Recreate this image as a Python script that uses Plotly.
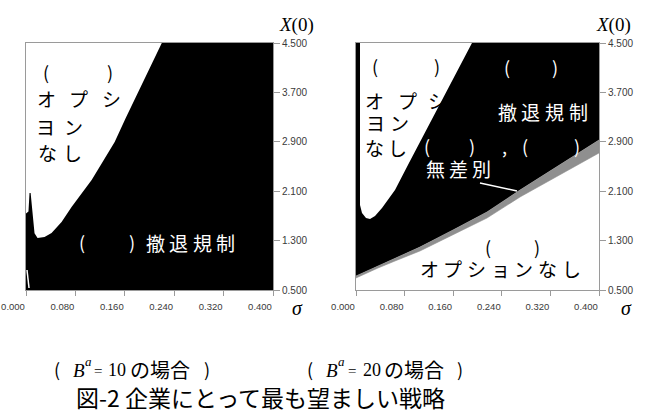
import plotly.graph_objects as go

# ---------------- data ----------------
# left panel (B^a = 10): upper boundary of the black "撤退規制" region
left_sigma = [0.000, 0.004, 0.0057, 0.0075, 0.0090, 0.011, 0.0138, 0.0187, 0.030, 0.0414,
              0.0576, 0.0738, 0.090, 0.1063, 0.124, 0.1436, 0.1615, 0.181, 0.2004, 0.2199]
left_x0 = [1.74, 1.77, 2.07, 2.07, 1.90, 1.63, 1.42, 1.342, 1.358, 1.423,
           1.601, 1.844, 2.071, 2.281, 2.573, 2.897, 3.285, 3.690, 4.095, 4.500]
# small white sliver near the origin of the left panel
left_sliver_sigma = [0.0016, 0.0049]
left_sliver_x0 = [0.824, 0.532]

# right panel (B^a = 20): white "オプションなし" region at the upper left
right_upper_sigma = [0.00658, 0.00658, 0.00988, 0.01646, 0.02305, 0.03128, 0.0428,
                     0.0642, 0.0872, 0.1053, 0.1481, 0.1909]
right_upper_x0 = [4.500, 1.877, 1.747, 1.666, 1.650, 1.698, 1.828,
                  2.119, 2.557, 2.897, 3.690, 4.500]
# right panel: lower edge of black region and lower edge of grey (無差別) band
right_lower_sigma = [0.000, 0.0362, 0.0642, 0.1053, 0.1597, 0.2156, 0.2700, 0.3358, 0.400]
right_black_lower_x0 = [0.727, 0.889, 1.018, 1.196, 1.472, 1.763, 2.119, 2.524, 2.929]
right_gray_lower_x0 = [0.695, 0.856, 0.970, 1.132, 1.391, 1.666, 2.006, 2.362, 2.719]

x_ticks = [0.000, 0.080, 0.160, 0.240, 0.320, 0.400]
y_ticks = [0.500, 1.300, 2.100, 2.900, 3.700, 4.500]
x_range = [0.0, 0.4]
y_range = [0.5, 4.5]

# ---------------- figure ----------------
W, H = 645, 418
CJK = "Noto Sans CJK JP"
SERIF = "Liberation Serif"
SANS = "Liberation Sans"
BLACK = "#000000"
GRAY = "#8f8f8f"
AX = "#9a9a9a"
TICKC = "#3a3a3a"

fig = go.Figure()

# left panel black region
lx = [x_range[0]] + left_sigma + [x_range[1], x_range[1], x_range[0]]
ly = [y_range[0]] + left_x0 + [y_range[1], y_range[0], y_range[0]]
fig.add_trace(go.Scatter(x=lx, y=ly, xaxis="x", yaxis="y", mode="lines", fill="toself",
                         fillcolor=BLACK, line=dict(width=0, color=BLACK), hoverinfo="skip"))
fig.add_trace(go.Scatter(x=left_sliver_sigma, y=left_sliver_x0, xaxis="x", yaxis="y", mode="lines",
                         line=dict(width=1.5, color="white"), hoverinfo="skip"))

# right panel black region
rbx = right_lower_sigma + [x_range[1], x_range[0]]
rby = right_black_lower_x0 + [y_range[1], y_range[1]]
fig.add_trace(go.Scatter(x=rbx, y=rby, xaxis="x2", yaxis="y2", mode="lines", fill="toself",
                         fillcolor=BLACK, line=dict(width=0, color=BLACK), hoverinfo="skip"))
# grey indifference band
rgx = right_lower_sigma + right_lower_sigma[::-1]
rgy = right_black_lower_x0 + right_gray_lower_x0[::-1]
fig.add_trace(go.Scatter(x=rgx, y=rgy, xaxis="x2", yaxis="y2", mode="lines", fill="toself",
                         fillcolor=GRAY, line=dict(width=0.6, color=GRAY), hoverinfo="skip"))
# white upper-left region
fig.add_trace(go.Scatter(x=right_upper_sigma, y=right_upper_x0, xaxis="x2", yaxis="y2", mode="lines",
                         fill="toself", fillcolor="white", line=dict(width=0, color="white"),
                         hoverinfo="skip"))

def xdom(a, b):
    return [a / W, b / W]

ydom = [(H - 290) / H, (H - 43) / H]

axis_common = dict(showgrid=False, zeroline=False, showline=True, linecolor=AX, linewidth=1,
                   mirror=True, ticks="outside", tickcolor=AX, tickwidth=1, layer="below traces",
                   automargin=False, fixedrange=True)
xaxis_common = dict(range=x_range, tickvals=x_ticks, tickformat=".3f", ticklen=5,
                    tickfont=dict(family=SANS, size=9.5, color=TICKC),
                    ticklabelshift=-13, ticklabelstandoff=3, **axis_common)
yaxis_common = dict(domain=ydom, range=y_range, tickvals=y_ticks, tickformat=".3f", side="right",
                    ticklen=6, tickfont=dict(family=SANS, size=10, color=TICKC), **axis_common)

fig.update_layout(
    width=W, height=H, margin=dict(l=0, r=0, t=0, b=0, autoexpand=False),
    paper_bgcolor="white", plot_bgcolor="white", showlegend=False,
    xaxis=dict(domain=xdom(26, 273), anchor="y", **xaxis_common),
    yaxis=dict(anchor="x", **yaxis_common),
    xaxis2=dict(domain=xdom(356, 599), anchor="y2", **xaxis_common),
    yaxis2=dict(anchor="x2", **yaxis_common),
)

# pointer line from 無差別 to the grey band
fig.add_shape(type="line", xref="x2", yref="y2", x0=0.2041, y0=2.233, x1=0.265, y1=2.104,
              line=dict(color="white", width=1.5))

anns = []

def txt(t, cx, cy, size=19, color=BLACK, family=CJK, xanchor="center"):
    anns.append(dict(text=t, x=cx / W, y=1 - cy / H, xref="paper", yref="paper",
                     xanchor=xanchor, yanchor="middle", showarrow=False, borderpad=0,
                     font=dict(family=family, size=size, color=color)))

def chars(s, cx0, cy, pitch, size=19, color=BLACK):
    for i, c in enumerate(s):
        txt(c, cx0 + i * pitch, cy, size, color)

# left panel texts
txt("(", 46, 72, 18); txt(")", 110, 72, 18)
txt("オ", 46, 99); txt("プ", 78, 99); txt("シ", 111, 99)
txt("ヨ", 45, 127); txt("ン", 73, 127)
txt("な", 47, 152); txt("し", 72, 152)
txt("(", 82, 242, 18, "white"); txt(")", 132, 242, 18, "white")
chars("撤退規制", 155, 242, 23.5, 19, "white")

# right panel texts
txt("(", 375, 66, 18); txt(")", 437, 66, 18)
txt("オ", 374, 100); txt("プ", 407, 100); txt("シ", 437, 100)
txt("ヨ", 375, 123); txt("ン", 399, 123)
txt("な", 374, 147); txt("し", 397, 147)
txt("(", 507, 67, 18, "white"); txt(")", 555, 67, 18, "white")
chars("撤退規制", 507, 111, 23.7, 19, "white")
txt("(", 427, 146, 18, "white"); txt(")", 472, 146, 18, "white")
txt(",", 504, 146, 18, "white")
txt("(", 525, 146, 18, "white"); txt(")", 577, 146, 18, "white")
chars("無差別", 435, 168, 23.3, 19, "white")
txt("(", 488, 247, 18); txt(")", 537, 247, 18)
chars("オプションなし", 429, 268, 23.7, 19)

# axis titles
txt("<i>X</i>(0)", 278, 25, 19, BLACK, SERIF, "left")
txt("<i>X</i>(0)", 595, 25, 19, BLACK, SERIF, "left")
txt("<i>σ</i>", 297, 308, 20, BLACK, SERIF)
txt("<i>σ</i>", 626, 308, 20, BLACK, SERIF)

# captions
def caption(x_par, x_b, x_a, x_eq, x_num, num, x_kana, x_close):
    txt("(", x_par, 369, 18)
    txt("<i>B</i>", x_b, 370, 19, BLACK, SERIF, "left")
    txt("<i>a</i>", x_a, 361, 13, BLACK, SERIF, "left")
    txt("=", x_eq, 371, 15, BLACK, SERIF)
    txt(num, x_num, 370, 18, BLACK, SERIF, "left")
    txt("の場合", x_kana, 369, 20, BLACK, CJK, "left")
    txt(")", x_close, 369, 18)

caption(57, 72, 84, 98, 107, "10", 129, 207)
caption(310, 325, 337, 352, 362, "20", 383, 460)

txt("図-2 企業にとって最も望ましい戦略", 260, 397, 23)

fig.update_layout(annotations=anns)
fig.write_html("out.html", config={"displayModeBar": False},
               post_script="document.body.style.margin='0';document.body.style.padding='0';")
